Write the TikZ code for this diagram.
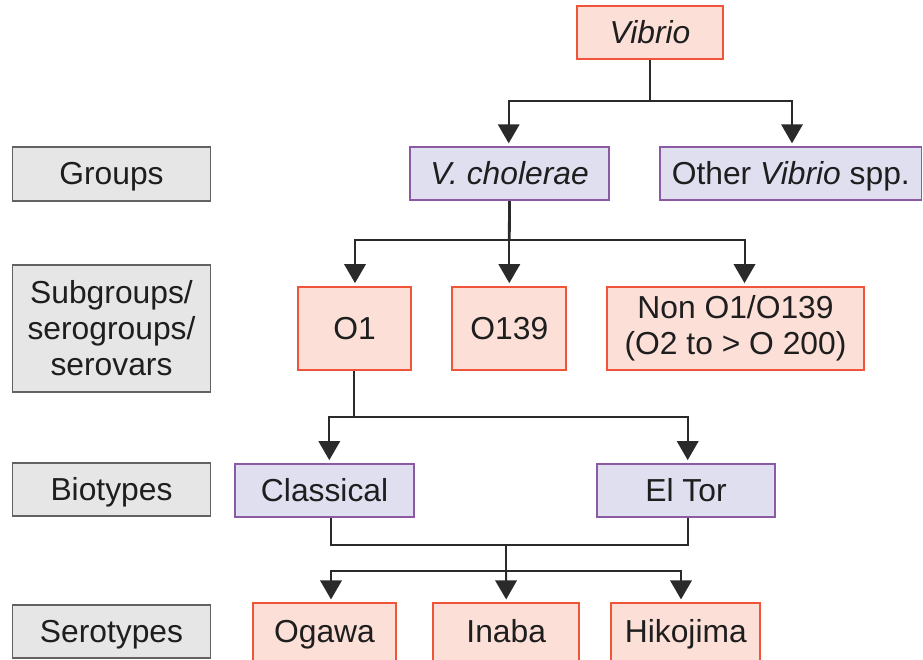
\documentclass[tikz,border=0pt]{standalone}
\usepackage{fontspec}
\setmainfont{Liberation Sans}
\usetikzlibrary{arrows.meta}
\definecolor{redfill}{HTML}{FCDFD7}
\definecolor{redline}{HTML}{F0553A}
\definecolor{purfill}{HTML}{E0DFF0}
\definecolor{purline}{HTML}{8C5AA5}
\definecolor{grayfill}{HTML}{E6E6E6}
\definecolor{grayline}{HTML}{626262}
\definecolor{conn}{HTML}{2A2A2A}
\definecolor{txt}{HTML}{1E1E1E}
\begin{document}
\begin{tikzpicture}[x=1pt,y=-1pt,
  box/.style={draw, line width=1.8pt, inner sep=0pt, align=center, text=txt,
    font=\fontsize{31.8}{36}\selectfont},
  oneline/.style={text height=24pt, text depth=3pt},
  redbox/.style={box, draw=redline, fill=redfill},
  purbox/.style={box, draw=purline, fill=purfill},
  graybox/.style={box, draw=grayline, fill=grayfill},
  conline/.style={draw=conn, line width=2pt},
  arr/.style={conline, -{Triangle[width=21.5pt,length=19pt]}, shorten >=3pt},
]
\useasboundingbox (0,0) rectangle (923,659);
% label column
\node[graybox, oneline, minimum width=198pt, minimum height=54pt] (groups) at (111.5,173.7) {Groups};
\node[graybox, minimum width=198pt, minimum height=127.5pt] (subg) at (111.5,328.5) {Subgroups/\\serogroups/\\serovars};
\node[graybox, oneline, minimum width=198pt, minimum height=53pt] (biot) at (111.5,489.5) {Biotypes};
\node[graybox, oneline, minimum width=198pt, minimum height=53pt] (serot) at (111.5,631.6) {Serotypes};
% tree
\node[redbox, oneline, minimum width=145.4pt, minimum height=53.6pt] (vibrio) at (650,32.5) {\itshape Vibrio};
\node[purbox, oneline, minimum width=199pt, minimum height=53pt] (vchol) at (509.5,173.7) {\itshape V. cholerae};
\node[purbox, oneline, minimum width=261.5pt, minimum height=53pt] (other) at (790.8,173.7) {Other \textit{Vibrio} spp.};
\node[redbox, oneline, minimum width=113.6pt, minimum height=83pt] (o1) at (354.5,328.5) {O1};
\node[redbox, oneline, minimum width=114pt, minimum height=83pt] (o139) at (509.3,328.5) {O139};
\node[redbox, minimum width=257pt, minimum height=83pt] (non) at (735.5,328.5) {Non O1/O139\\(O2 to > O 200)};
\node[purbox, oneline, minimum width=178.7pt, minimum height=53pt] (classical) at (324.6,490.5) {Classical};
\node[purbox, oneline, minimum width=178.6pt, minimum height=53pt] (eltor) at (686,490.5) {El Tor};
\node[redbox, oneline, minimum width=142.4pt, minimum height=58pt] (ogawa) at (324.5,632.3) {Ogawa};
\node[redbox, oneline, minimum width=145.7pt, minimum height=58pt] (inaba) at (506.2,632.3) {Inaba};
\node[redbox, oneline, minimum width=149pt, minimum height=58pt] (hikojima) at (685.8,632.3) {Hikojima};
% junctions
\coordinate (j1) at (650,100.7);
\coordinate (j2) at (509.3,240);
\coordinate (j3) at (353.5,417);
\coordinate (j4) at (506,544.7);
\coordinate (j5) at (506,570.7);
% connectors
\draw[conline] (vibrio.south) -- (j1);
\draw[arr] (j1) -| ([xshift=-0.8pt]vchol.north);
\draw[arr] (j1) -| ([xshift=1.2pt]other.north);
\draw[conline, line width=2.8pt] (vchol.south) -- (j2);
\draw[arr] (j2) -| ([xshift=0.5pt]o1.north);
\draw[arr] (j2) -- (o139.north);
\draw[arr] (j2) -| ([xshift=9pt]non.north);
\draw[conline] ([xshift=-1pt]o1.south) -- (j3);
\draw[arr] (j3) -| ([xshift=4.7pt]classical.north);
\draw[arr] (j3) -| ([xshift=1.7pt]eltor.north);
\draw[conline] ([xshift=6pt]classical.south) |- (j4);
\draw[conline] ([xshift=1.7pt]eltor.south) |- (j4);
\draw[conline] (j4) -- (j5);
\draw[arr] (j5) -| ([xshift=6.5pt]ogawa.north);
\draw[arr] (j5) -- (inaba.north);
\draw[arr] (j5) -| ([xshift=-4.8pt]hikojima.north);
\end{tikzpicture}
\end{document}
